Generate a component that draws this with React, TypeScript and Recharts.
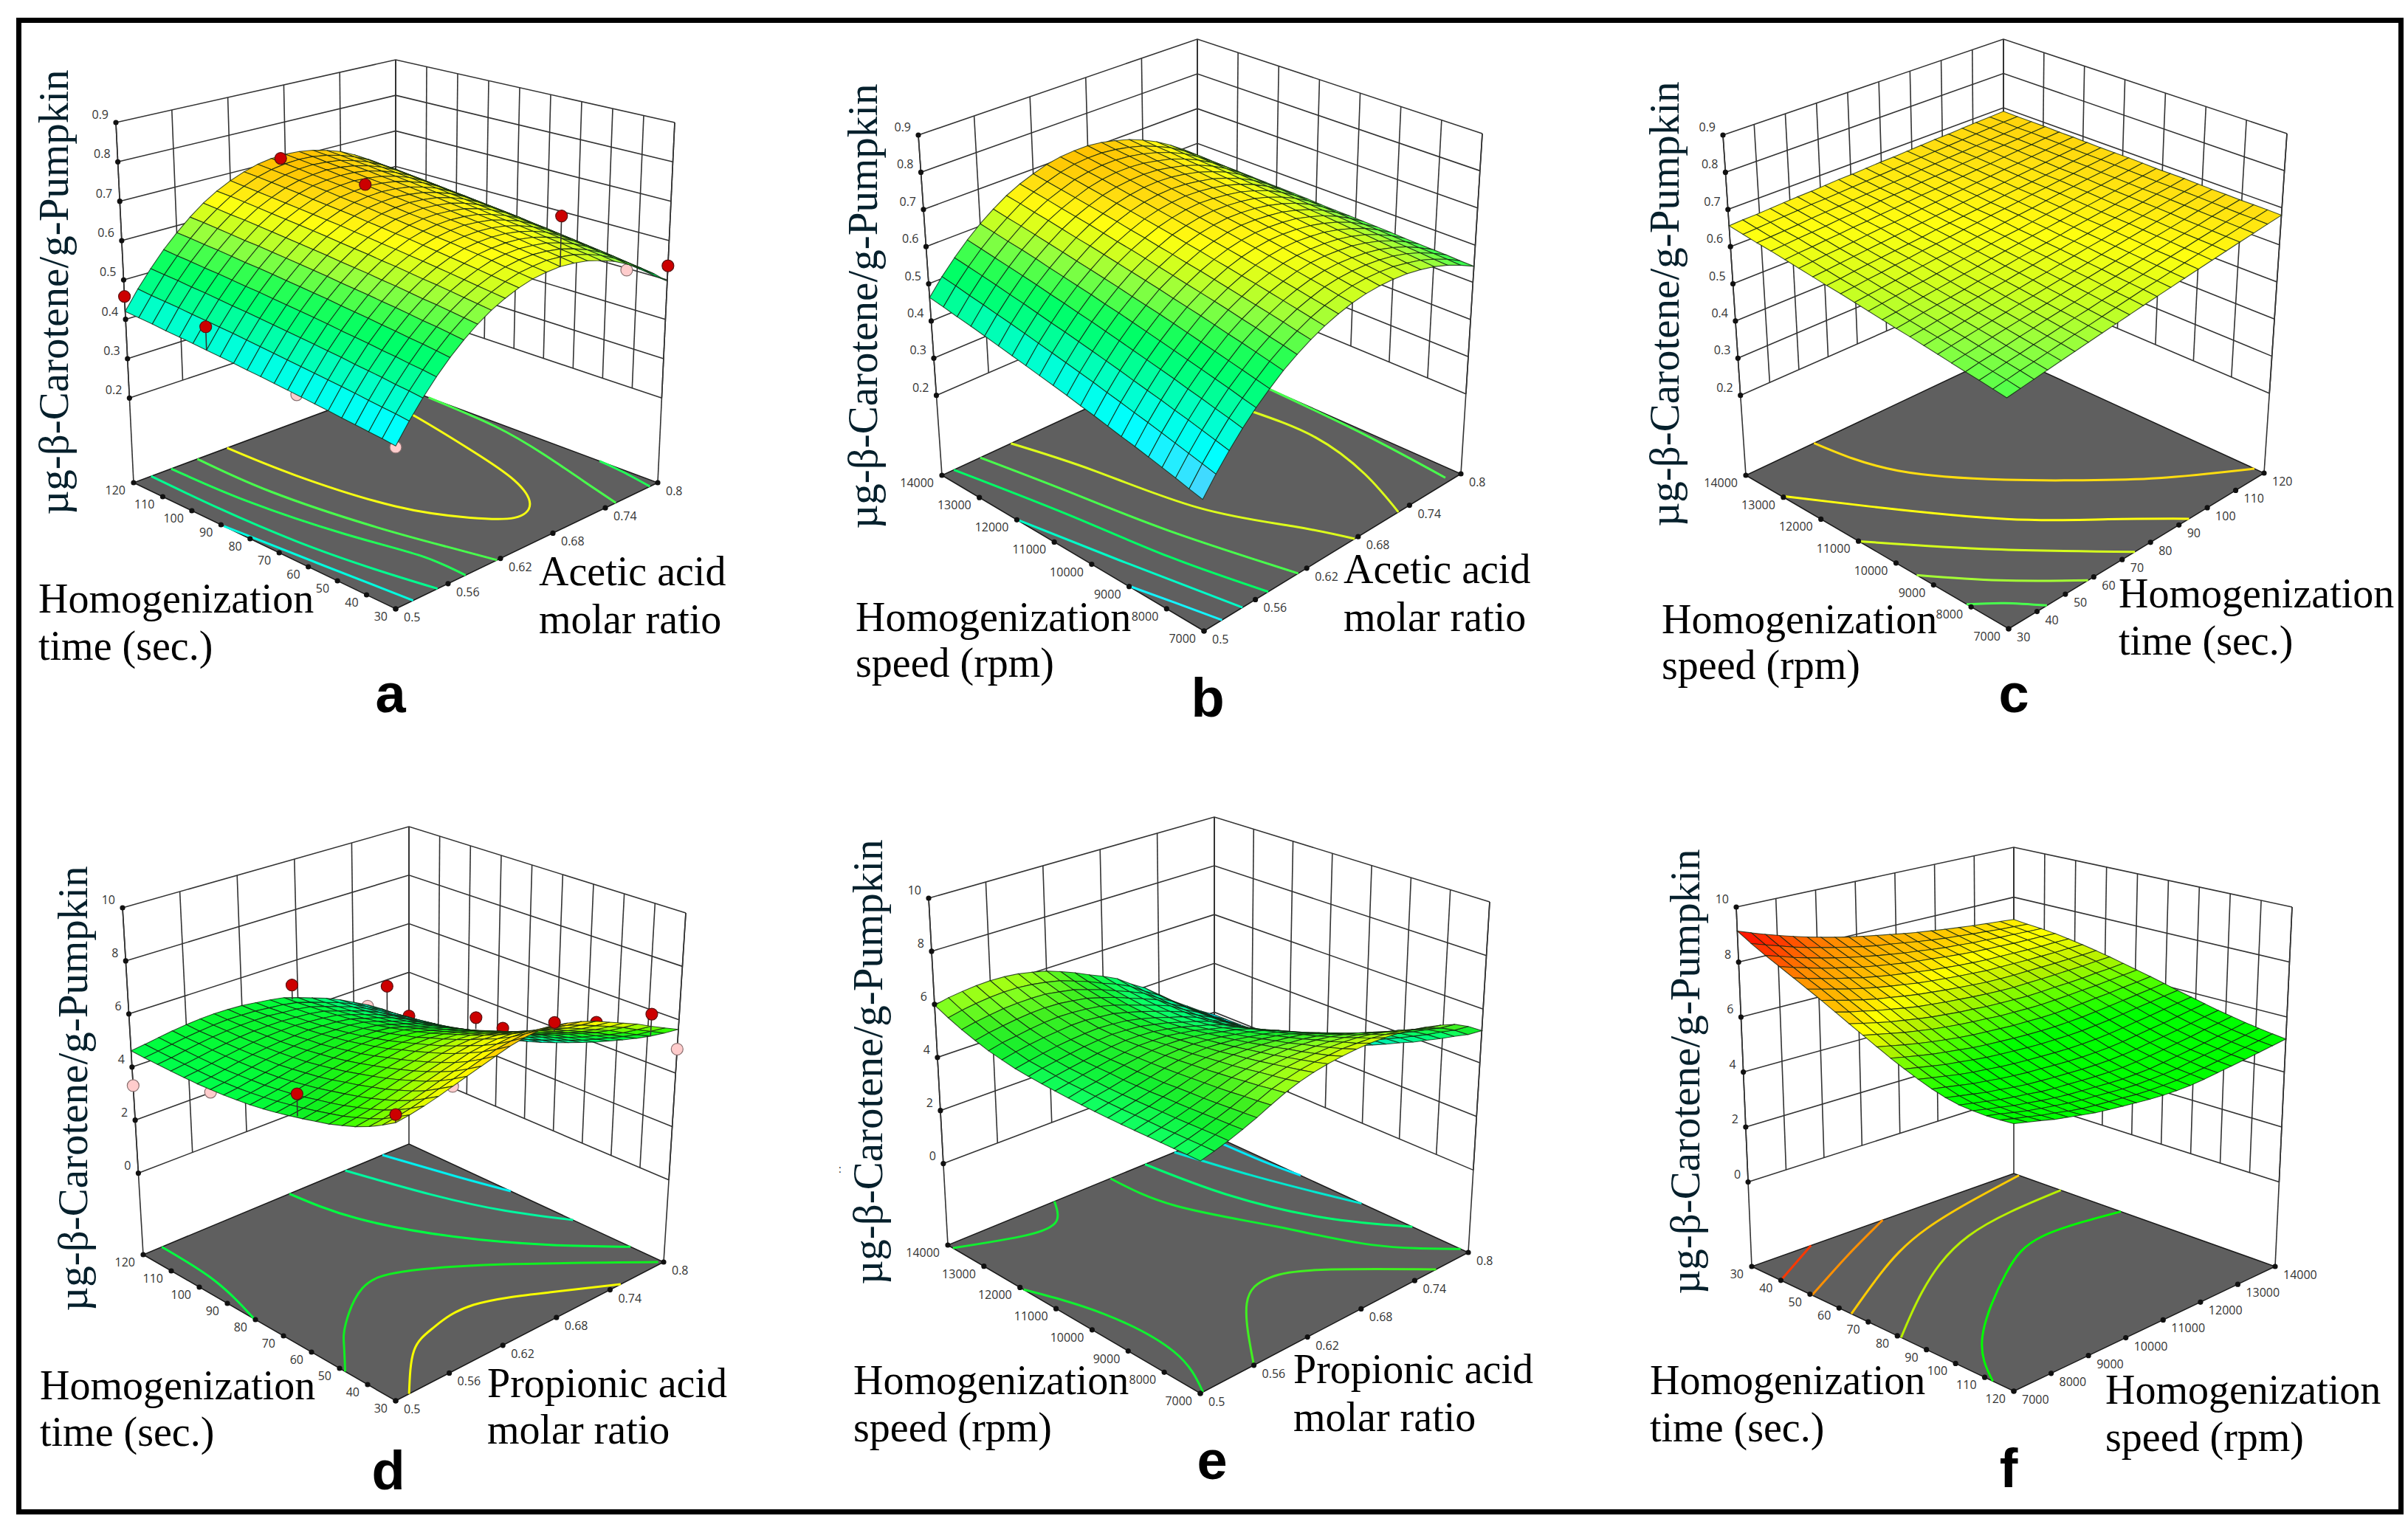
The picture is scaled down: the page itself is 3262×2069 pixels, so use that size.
import { Scatter, ScatterChart, XAxis, YAxis } from "recharts";

const timeTicks = [30, 40, 50, 60, 70, 80, 90, 100, 110, 120];
const speedTicks = [7000, 8000, 9000, 10000, 11000, 12000, 13000, 14000];
const ratioTicks = [0.5, 0.56, 0.62, 0.68, 0.74, 0.8];
const responseTicksLow = [0.2, 0.3, 0.4, 0.5, 0.6, 0.7, 0.8, 0.9];
const responseTicksHigh = [0, 2, 4, 6, 8, 10];

const surfaceA = [
  [364,409,450,487,520,549,574,595,611,624,633,637,638,634,627,615,600,580,556,529,497],
  [368,413,454,491,524,553,578,599,615,628,637,641,643,639,632,620,605,585,561,534,502],
  [371,416,457,494,528,557,582,603,619,632,641,646,647,643,636,624,609,590,566,539,507],
  [374,419,461,498,531,560,586,607,623,636,646,650,651,647,641,629,614,594,571,544,512],
  [377,423,464,501,535,564,589,611,627,640,650,654,655,652,645,633,619,599,575,548,517],
  [381,426,467,505,538,568,593,614,631,644,654,658,659,656,649,638,623,603,580,553,522],
  [384,429,471,508,542,571,597,618,635,648,658,662,663,660,653,642,627,608,584,558,526],
  [387,432,474,511,545,575,600,622,638,652,661,666,668,664,658,646,632,612,589,562,531],
  [390,435,477,515,548,578,604,625,642,656,665,670,671,668,662,650,636,617,593,567,536],
  [393,438,480,518,552,581,607,629,645,659,669,674,675,672,666,655,640,621,598,571,540],
  [396,441,483,521,555,585,610,632,649,663,673,677,679,676,670,659,644,625,602,576,545],
  [398,444,486,524,558,588,614,635,652,666,676,681,683,680,674,663,648,629,606,580,549],
  [401,447,489,527,561,591,617,639,656,670,680,685,687,683,677,666,652,633,610,584,553],
  [404,450,492,530,564,594,620,642,659,673,683,688,690,687,681,670,656,637,614,588,557],
  [406,452,494,532,567,597,623,645,662,676,686,691,694,691,685,674,660,641,618,592,562],
  [409,455,497,535,569,600,626,648,665,679,690,695,697,694,688,678,664,645,622,596,566],
  [411,457,500,538,572,602,629,651,668,683,693,698,700,698,692,681,667,649,626,600,570],
  [413,460,502,540,575,605,632,654,671,686,696,701,704,701,695,685,671,653,630,604,574],
  [416,462,505,543,577,608,634,657,674,689,699,705,707,704,699,688,675,656,634,608,578],
  [418,464,507,545,580,611,637,660,677,692,702,708,710,708,702,692,678,660,637,612,581],
  [420,467,509,548,582,613,640,662,680,694,705,711,713,711,705,695,682,663,641,615,585],
];
const surfaceB = [
  [316,361,402,440,474,504,532,555,575,592,605,615,621,623,622,618,610,599,584,565,543],
  [324,369,410,448,481,511,539,562,581,598,611,620,626,628,626,622,613,602,586,567,544],
  [333,377,418,455,489,518,546,568,588,604,616,626,631,632,630,625,617,605,589,569,546],
  [341,385,426,463,496,525,553,575,594,610,622,631,636,637,634,629,620,607,591,570,547],
  [349,393,433,470,503,532,559,581,600,616,627,636,641,641,638,633,623,610,593,572,548],
  [357,401,441,478,510,539,566,588,606,622,633,641,645,645,642,636,626,613,595,574,549],
  [364,408,448,485,517,546,573,594,612,627,638,646,650,650,646,640,629,615,598,576,551],
  [372,416,455,492,524,553,579,600,618,633,644,651,655,654,650,643,632,618,600,577,552],
  [380,423,463,499,531,560,585,606,624,638,649,656,659,658,654,647,635,621,602,579,553],
  [387,431,470,506,538,566,592,612,629,644,654,661,664,662,657,650,638,623,604,581,554],
  [395,438,477,513,545,572,598,618,635,649,659,665,668,666,661,653,641,626,606,582,555],
  [402,445,484,520,551,579,604,624,640,655,664,670,672,670,665,657,644,628,608,584,556],
  [409,452,491,526,558,585,610,630,646,660,669,675,677,674,668,660,647,631,610,585,558],
  [416,459,497,533,564,591,616,635,651,665,674,679,681,678,672,663,650,633,612,587,559],
  [423,466,504,539,570,597,622,641,657,670,679,684,685,682,675,666,652,635,614,588,560],
  [430,473,511,546,576,603,627,647,662,675,683,688,689,686,679,669,655,638,616,590,561],
  [437,479,517,552,583,609,633,652,667,680,688,692,693,690,682,672,658,640,618,591,562],
  [444,486,524,558,589,615,639,657,672,685,693,697,697,693,685,675,660,642,620,593,563],
  [450,492,530,564,594,621,644,663,677,690,697,701,701,697,689,678,663,645,621,594,564],
  [457,499,536,570,600,626,650,668,682,694,702,705,705,700,692,681,665,647,623,596,565],
  [463,505,542,576,606,632,655,673,687,699,706,709,709,704,695,684,668,649,625,597,566],
];
const surfaceC = [
  [560,566,572,578,584,590,596,602,608,614,620,626,632,638,644,650,656,662,668,674,680],
  [565,571,577,582,588,594,600,605,611,617,623,629,634,640,646,652,658,663,669,675,681],
  [570,575,581,586,592,597,603,609,614,620,625,631,636,642,648,653,659,664,670,675,681],
  [574,580,585,590,596,601,607,612,617,623,628,633,639,644,649,655,660,665,671,676,681],
  [579,584,589,595,600,605,610,615,620,626,631,636,641,646,651,656,661,666,672,677,682],
  [584,589,594,599,604,609,614,618,623,628,633,638,643,648,653,658,663,668,673,678,682],
  [589,594,598,603,608,612,617,622,627,631,636,641,646,650,655,660,664,669,674,679,683],
  [594,598,603,607,612,616,621,625,630,634,639,643,648,652,657,661,666,670,675,679,684],
  [598,602,607,611,615,619,624,628,632,637,641,645,649,654,658,662,666,671,675,679,684],
  [603,607,611,615,619,623,627,631,636,640,644,648,652,656,660,664,668,672,676,680,684],
  [608,612,616,620,623,627,631,635,639,643,647,650,654,658,662,666,670,673,677,681,685],
  [613,617,620,624,628,631,635,638,642,646,649,653,657,660,664,668,671,675,678,682,686],
  [618,621,625,628,632,635,639,642,645,649,652,656,659,662,666,669,673,676,680,683,686],
  [622,625,629,632,635,638,641,644,648,651,654,657,660,664,667,670,673,676,680,683,686],
  [627,630,633,636,639,642,645,648,651,654,657,660,663,666,669,672,675,678,681,684,687],
  [632,635,638,640,643,646,649,651,654,657,660,663,665,668,671,674,676,679,682,685,688],
  [637,640,642,645,647,650,652,655,657,660,663,665,668,670,673,675,678,681,683,686,688],
  [642,644,647,649,651,654,656,658,661,663,665,668,670,672,675,677,680,682,684,687,689],
  [646,648,650,652,655,657,659,661,663,665,667,669,672,674,676,678,680,682,684,686,689],
  [651,653,655,657,659,661,662,664,666,668,670,672,674,676,678,680,682,684,686,688,689],
  [656,658,659,661,663,665,666,668,670,671,673,675,676,678,680,682,683,685,687,688,690],
];
const surfaceD = [
  [655,662,672,685,700,715,730,745,760,770,775,772,760,745,725,700,675,650,620,592,564],
  [625,633,643,656,671,685,700,715,729,738,743,740,728,713,693,669,644,619,589,561,532],
  [598,605,616,629,643,658,672,686,700,708,713,710,698,683,663,639,614,589,559,530,502],
  [576,584,594,607,621,635,649,662,676,683,687,684,671,657,638,613,588,563,533,504,475],
  [558,566,576,589,603,617,629,642,654,662,666,661,649,634,615,590,565,540,510,480,450],
  [541,549,560,572,585,599,611,623,634,641,644,640,627,611,592,568,543,518,486,456,427],
  [528,536,545,558,571,583,595,606,617,621,624,620,606,590,571,546,521,495,465,433,403],
  [515,523,532,545,557,569,580,590,600,604,606,602,587,572,553,528,502,476,445,413,382],
  [503,511,521,533,545,556,566,576,585,588,589,584,570,554,535,510,484,458,427,394,362],
  [492,500,509,521,532,543,553,561,568,572,571,566,552,535,516,492,465,439,407,374,342],
  [482,490,499,511,521,532,541,548,555,557,557,551,536,520,500,476,449,422,390,356,323],
  [474,482,491,502,513,522,530,538,543,544,543,537,523,505,486,461,434,406,375,340,306],
  [468,475,484,494,505,513,522,527,532,532,531,524,508,491,471,447,419,392,359,325,290],
  [463,470,480,489,498,507,514,518,523,522,520,512,496,479,459,434,407,379,345,311,275],
  [460,467,476,486,495,502,508,513,515,513,511,503,487,468,449,424,396,367,334,299,262],
  [457,464,473,483,491,498,503,506,509,506,502,494,477,460,440,415,386,357,323,287,250],
  [457,464,472,481,489,496,501,503,504,500,495,487,470,451,431,407,378,349,315,277,240],
  [457,464,472,481,488,494,498,499,499,495,490,481,463,444,424,399,370,341,306,268,230],
  [458,465,474,482,489,494,497,498,497,491,486,476,459,439,419,393,365,335,300,261,222],
  [459,466,474,482,488,493,496,495,493,487,481,471,453,434,414,389,359,329,293,254,215],
  [461,468,476,484,490,494,496,495,492,485,478,468,450,430,410,385,355,325,290,250,210],
];
const surfaceE = [
  [489,502,517,535,555,578,600,617,630,639,645,649,650,648,643,634,622,607,588,558,520],
  [489,501,516,532,551,572,593,607,619,626,629,632,630,627,619,609,594,578,557,526,487],
  [488,500,514,530,547,567,585,599,609,614,616,617,615,610,601,588,573,554,532,501,462],
  [487,499,512,527,543,561,579,591,599,603,603,602,598,591,580,566,549,529,506,473,435],
  [486,497,510,524,539,556,572,582,589,591,592,589,584,575,562,547,528,506,481,448,410],
  [485,497,509,522,537,552,566,574,580,581,579,574,568,558,544,526,505,481,456,423,384],
  [484,496,507,521,534,548,560,568,572,571,568,562,554,544,527,508,485,460,434,400,362],
  [484,495,506,518,530,544,555,561,563,561,556,549,540,527,508,489,465,438,410,375,338],
  [484,495,505,517,529,541,550,554,556,552,546,536,526,513,493,471,445,417,389,354,315],
  [485,496,505,516,527,538,546,549,549,544,536,525,514,499,477,454,427,397,368,331,293],
  [487,498,507,518,528,536,543,545,543,536,527,514,502,485,461,438,408,377,346,309,272],
  [489,499,509,518,527,534,540,539,537,528,518,503,489,471,446,421,389,356,324,287,249],
  [492,502,511,519,527,533,537,536,532,522,510,494,479,459,432,406,373,338,305,267,230],
  [496,507,515,523,530,535,538,535,530,518,505,488,471,451,422,395,360,324,290,252,215],
  [501,511,520,528,534,538,540,536,530,518,503,485,468,446,416,388,352,315,280,242,205],
  [510,521,530,537,542,547,547,541,535,521,505,487,468,446,414,385,348,309,274,236,200],
  [520,532,539,547,553,556,554,549,541,527,509,489,470,448,414,384,345,306,270,232,196],
  [535,546,554,561,566,568,566,559,550,534,517,495,474,451,415,384,344,303,266,228,193],
  [552,563,571,578,581,582,580,571,561,544,525,502,480,455,418,386,344,303,265,226,191],
  [573,584,592,598,601,600,595,586,574,555,535,510,488,461,423,389,346,302,263,224,190],
  [597,608,615,620,622,620,614,603,590,570,548,522,498,470,430,395,350,305,265,225,190],
];
const surfaceF = [
  [582,570,558,545,535,525,515,508,502,496,490,486,484,484,487,492,497,502,508,514,520],
  [577,565,554,542,533,522,513,507,502,497,491,488,487,487,491,495,501,506,513,519,526],
  [574,564,552,541,532,524,516,509,505,500,495,492,492,493,496,502,508,513,520,526,533],
  [574,563,553,542,534,525,518,512,508,504,500,497,497,498,503,508,514,520,527,533,541],
  [576,566,556,546,538,531,523,518,515,511,508,506,505,508,512,517,523,529,537,543,550],
  [584,574,564,554,547,539,532,528,524,521,518,516,516,518,522,528,533,539,546,553,560],
  [596,587,577,567,560,552,546,541,538,534,531,529,529,530,534,540,546,551,558,565,571],
  [612,602,592,582,574,568,561,556,552,549,546,544,544,545,548,553,559,564,571,577,583],
  [630,620,610,600,593,585,578,573,569,565,562,561,560,561,564,568,573,579,584,590,595],
  [650,639,629,619,611,604,596,591,587,583,580,578,577,578,580,584,588,593,598,603,608],
  [672,661,650,640,631,623,616,610,606,602,598,597,595,595,597,600,604,607,612,616,621],
  [695,684,673,662,653,644,637,631,626,622,617,615,613,612,614,616,619,621,625,629,633],
  [718,706,694,683,674,665,657,651,645,641,636,633,631,629,630,632,633,635,639,641,645],
  [742,729,718,706,697,687,678,672,666,661,656,652,649,647,648,648,649,651,652,655,657],
  [766,753,740,728,717,709,700,692,686,680,675,670,666,664,663,664,664,664,665,666,668],
  [789,776,763,750,739,729,720,712,704,698,693,688,684,680,679,678,677,677,677,678,678],
  [812,797,784,771,760,748,739,730,723,716,709,704,699,695,692,691,689,688,687,688,687],
  [835,820,806,792,780,769,758,749,741,733,727,722,716,711,707,704,702,699,698,697,695],
  [858,843,827,813,800,788,777,767,758,750,742,736,729,723,719,714,712,708,706,703,701],
  [884,868,852,836,822,810,798,787,776,767,760,752,744,737,731,726,721,717,712,709,705],
  [913,895,878,862,847,833,820,808,797,787,778,769,760,752,745,738,732,726,721,716,711],
];

// floor contours: response level plus [left axis value, right axis value] pairs
const contoursA = [
  { level: 0.42, points: [[89,0.5],[60,0.51],[30,0.52]] },
  { level: 0.48, points: [[120,0.52],[97,0.52],[71,0.525],[48,0.536],[30,0.548]] },
  { level: 0.54, points: [[120,0.543],[95,0.547],[66,0.563],[45,0.579],[30,0.58]] },
  { level: 0.56, points: [[120,0.573],[95,0.574],[65,0.589],[44,0.605],[30,0.616]] },
  { level: 0.645, points: [[120,0.607],[97.5,0.611],[68.5,0.628],[51,0.655],[43,0.679],[45.7,0.706],[58,0.729],[77,0.746],[103.5,0.765],[117,0.77]] },
  { level: 0.56, points: [[108.7,0.8],[84,0.794],[63,0.78],[42,0.762],[30,0.752]] },
  { level: 0.54, points: [[50,0.8],[41,0.797],[30,0.791]] },
];
const contoursB = [
  { level: 0.37, points: [[9058,0.5],[8022,0.511],[7000,0.521]] },
  { level: 0.44, points: [[12040,0.5],[9730,0.521],[7000,0.545]] },
  { level: 0.52, points: [[14000,0.514],[11445,0.538],[9170,0.554],[7000,0.575]] },
  { level: 0.56, points: [[14000,0.545],[12040,0.563],[9800,0.581],[7000,0.61]] },
  { level: 0.63, points: [[14000,0.581],[12250,0.602],[9940,0.623],[8190,0.656],[7000,0.676]] },
  { level: 0.63, points: [[11711,0.763],[10122,0.767],[8428,0.751],[7000,0.727]] },
  { level: 0.56, points: [[12110,0.8],[9478,0.796],[7140,0.788]] },
];
const contoursC = [
  { level: 0.56, points: [[8120,30],[7630,37],[7000,43.5]] },
  { level: 0.6, points: [[9450,30],[8225,43],[7000,58]] },
  { level: 0.625, points: [[10990,30],[9030,51.6],[7000,74.5]] },
  { level: 0.65, points: [[13055,30],[11655,43.5],[9590,63.3],[8162,80.4],[7000,93.6]] },
  { level: 0.68, points: [[14000,53.8],[12229,60],[10570,76],[9520,88.5],[8449,102],[7259,120]] },
];
const contoursD = [
  { level: 2.9, points: [[120,0.77],[99,0.787],[84,0.8]] },
  { level: 3.8, points: [[120,0.728],[96.4,0.75],[77.7,0.773],[62,0.8]] },
  { level: 4.7, points: [[120,0.665],[100,0.677],[76.8,0.713],[57,0.758],[41.7,0.8]] },
  { level: 5.2, points: [[48,0.5],[57,0.527],[64,0.551],[73.6,0.6],[72.7,0.643],[58.8,0.707],[31,0.797]] },
  { level: 6.9, points: [[30,0.515],[43.5,0.563],[48,0.599],[49,0.647],[40,0.704],[30,0.752]] },
  { level: 4.7, points: [[120,0.521],[99.8,0.517],[80.4,0.5]] },
];
const contoursE = [
  { level: 2.1, points: [[14000,0.794],[12565,0.796],[11620,0.8]] },
  { level: 3.05, points: [[14000,0.755],[12278,0.772],[10920,0.788],[9940,0.8]] },
  { level: 4.6, points: [[14000,0.722],[12040,0.734],[10059,0.762],[8540,0.8]] },
  { level: 5.2, points: [[14000,0.683],[12369,0.69],[10430,0.725],[8610,0.757],[7210,0.8]] },
  { level: 5.2, points: [[11900,0.5],[10290,0.524],[8400,0.527],[7000,0.503]] },
  { level: 5.6, points: [[7000,0.56],[8715,0.6215],[9100,0.662],[8610,0.701],[7000,0.764]] },
  { level: 5.2, points: [[13860,0.5],[13363,0.562],[13398,0.5975],[14000,0.62]] },
];
const contoursF = [
  { level: 8.6, points: [[40,7000],[30,8582]] },
  { level: 8, points: [[50.7,7000],[39.6,8841],[30,10500]] },
  { level: 7.3, points: [[64.2,7000],[52.8,8659],[40.8,10850],[31.8,14000]] },
  { level: 6.6, points: [[81.3,7000],[66.9,8680],[51,11165],[46.2,14000]] },
  { level: 5.75, points: [[112.8,7000],[94.4,8155],[73.4,10416],[63.8,12145],[66.9,14000]] },
];

// design points: left axis value, right axis value, response
const pointsBelowA = [[63,0.5,0.388],[30,0.5,0.361],[30,0.754,0.566]];
const pointsAboveA = [[120,0.5,0.458],[93,0.5,0.464],[120,0.675,0.705],[93,0.677,0.7],[30,0.68,0.762],[30,0.8,0.536]];
const pointsBelowD = [[120,0.5,3.3],[93,0.5,4.5],[120,0.755,3.2],[30,0.56,7],[30,0.8,4.9]];
const pointsBehindD = [[120,0.8,2.2],[66,0.728,5.2],[52.5,0.785,5.2]];
const pointsAboveD = [[120,0.674,5.07],[111,0.7475,4.53],[75,0.728,5.2],[48,0.725,6.24],[39,0.8,5.85],[63.3,0.5,5.95],[30,0.5,6.83]];

const rampLow: [number, string][] = [
  [0.33, "#55ccff"], [0.36, "#22eeff"], [0.385, "#00ffff"], [0.42, "#00ffe0"], [0.46, "#00ffb0"], [0.49, "#00ff80"], [0.52, "#00ff66"],
  [0.55, "#30ff50"], [0.59, "#90ff40"], [0.62, "#ccff20"], [0.65, "#ffff10"], [0.68, "#ffdd10"], [0.71, "#ffc000"],
];
const rampD: [number, string][] = [
  [2.9, "#00f0f0"], [3.8, "#00f8a0"], [4.7, "#00ff40"], [5.2, "#10f020"], [5.6, "#30ff00"], [6.2, "#a0ff00"], [6.5, "#d8f800"],
  [7, "#ffff00"], [7.4, "#ffd000"], [7.8, "#ffb000"],
];
const rampE: [number, string][] = [
  [2.1, "#00e8f8"], [3.05, "#00e8d0"], [4.6, "#00ff70"], [4.9, "#10ff60"], [5.2, "#10f030"], [5.6, "#40f020"], [5.9, "#80ff20"],
  [6.2, "#b0ff10"], [6.5, "#e0f800"],
];
const rampF: [number, string][] = [
  [5.75, "#00ff00"], [6.3, "#70ff00"], [6.6, "#b8f000"], [7, "#ffff00"], [7.3, "#ffcc00"], [8, "#ff9000"], [8.6, "#ff3800"], [9.13, "#ff0000"],
];

type Pt = [number, number];

const panels = [
  {
    letter: "a", letterAt: [529, 939], surface: surfaceA, unit: 1000, zTicks: responseTicksLow, ramp: rampLow,
    contours: contoursA, below: pointsBelowA, behind: [], above: pointsAboveA,
    left: { ticks: timeTicks, from: 30, to: 120 }, right: { ticks: ratioTicks, from: 0.5, to: 0.8 },
    floor: { F: [536, 825], L: [181, 654], R: [891, 654], B: [536, 522] },
    top: { F: [536, 292], L: [157, 166], R: [914, 166], B: [536, 81] },
    yTitleAt: [72, 396],
    leftTitle: { lines: ["Homogenization", "time (sec.)"], x: 52, y: [811, 875] },
    rightTitle: { lines: ["Acetic acid", "molar ratio"], x: 730, y: [774, 839] },
  },
  {
    letter: "b", letterAt: [1636, 945], surface: surfaceB, unit: 1000, zTicks: responseTicksLow, ramp: rampLow,
    contours: contoursB, below: [], behind: [], above: [],
    left: { ticks: speedTicks, from: 7000, to: 14000 }, right: { ticks: ratioTicks, from: 0.5, to: 0.8 },
    floor: { F: [1631, 855], L: [1276, 644], R: [1979, 642], B: [1622, 484] },
    top: { F: [1626, 362], L: [1244, 183], R: [2008, 181], B: [1622, 53] },
    yTitleAt: [1168, 415],
    leftTitle: { lines: ["Homogenization", "speed (rpm)"], x: 1159, y: [836, 898] },
    rightTitle: { lines: ["Acetic acid", "molar ratio"], x: 1820, y: [771, 836] },
  },
  {
    letter: "c", letterAt: [2728, 939], surface: surfaceC, unit: 1000, zTicks: responseTicksLow, ramp: rampLow,
    contours: contoursC, below: [], behind: [], above: [],
    left: { ticks: speedTicks, from: 7000, to: 14000 }, right: { ticks: timeTicks, from: 30, to: 120 },
    floor: { F: [2721, 852], L: [2365, 644], R: [3067, 641], B: [2714, 479] },
    top: { F: [2717, 354], L: [2334, 183], R: [3098, 181], B: [2714, 53] },
    yTitleAt: [2254, 412],
    leftTitle: { lines: ["Homogenization", "speed (rpm)"], x: 2251, y: [839, 901] },
    rightTitle: { lines: ["Homogenization", "time (sec.)"], x: 2870, y: [804, 868] },
  },
  {
    letter: "d", letterAt: [526, 1992], surface: surfaceD, unit: 100, zTicks: responseTicksHigh, ramp: rampD,
    contours: contoursD, below: pointsBelowD, behind: pointsBehindD, above: pointsAboveD,
    left: { ticks: timeTicks, from: 30, to: 120 }, right: { ticks: ratioTicks, from: 0.5, to: 0.8 },
    floor: { F: [536, 1898], L: [194, 1700], R: [899, 1710], B: [554, 1550] },
    top: { F: [536, 1386], L: [166, 1230], R: [929, 1237], B: [554, 1120] },
    yTitleAt: [98, 1475],
    leftTitle: { lines: ["Homogenization", "time (sec.)"], x: 54, y: [1877, 1940] },
    rightTitle: { lines: ["Propionic acid", "molar ratio"], x: 660, y: [1874, 1937] },
  },
  {
    letter: "e", letterAt: [1642, 1978], surface: surfaceE, unit: 100, zTicks: responseTicksHigh, ramp: rampE,
    contours: contoursE, below: [], behind: [], above: [],
    left: { ticks: speedTicks, from: 7000, to: 14000 }, right: { ticks: ratioTicks, from: 0.5, to: 0.8 },
    floor: { F: [1626, 1888], L: [1284, 1687], R: [1989, 1697], B: [1645, 1539] },
    top: { F: [1626, 1371], L: [1258, 1217], R: [2018, 1222], B: [1645, 1107] },
    yTitleAt: [1175, 1439],
    leftTitle: { lines: ["Homogenization", "speed (rpm)"], x: 1156, y: [1870, 1934] },
    rightTitle: { lines: ["Propionic acid", "molar ratio"], x: 1752, y: [1855, 1920] },
  },
  {
    letter: "f", letterAt: [2721, 1989], surface: surfaceF, unit: 100, zTicks: responseTicksHigh, ramp: rampF,
    contours: contoursF, below: [], behind: [], above: [],
    left: { ticks: timeTicks, from: 120, to: 30 }, right: { ticks: speedTicks, from: 7000, to: 14000 },
    floor: { F: [2728, 1885], L: [2373, 1716], R: [3082, 1716], B: [2728, 1590] },
    top: { F: [2728, 1352], L: [2352, 1229], R: [3105, 1229], B: [2728, 1148] },
    yTitleAt: [2282, 1452],
    leftTitle: { lines: ["Homogenization", "time (sec.)"], x: 2235, y: [1870, 1934] },
    rightTitle: { lines: ["Homogenization", "speed (rpm)"], x: 2852, y: [1883, 1947] },
  },
];

type Panel = (typeof panels)[number];

function bilerp(q: Record<string, number[]>, u: number, v: number): Pt {
  const at = (k: number) => q.F[k] + u * (q.L[k] - q.F[k]) + v * (q.R[k] - q.F[k]) + u * v * (q.F[k] + q.B[k] - q.L[k] - q.R[k]);
  return [at(0), at(1)];
}

// axis floor value sits below the first tick, same share of the wall on every panel
function floorLevel(p: Panel) {
  const hi = p.zTicks[p.zTicks.length - 1];
  return hi - (hi - p.zTicks[0]) / 0.765;
}

function project(p: Panel, u: number, v: number, z: number): Pt {
  const max = p.zTicks[p.zTicks.length - 1];
  const floorZ = floorLevel(p);
  const w = (z - floorZ) / (max - floorZ);
  const a = bilerp(p.floor, u, v);
  const b = bilerp(p.top, u, v);
  return [a[0] + w * (b[0] - a[0]), a[1] + w * (b[1] - a[1])];
}

const frac = (axis: { from: number; to: number }, value: number) => (value - axis.from) / (axis.to - axis.from);

function polyItem(pts: Pt[], color: string | null, closed: boolean) {
  return { x: pts[0][0], y: pts[0][1], offsets: pts.map((q) => [q[0] - pts[0][0], q[1] - pts[0][1]]), color, closed };
}

function rampColor(ramp: [number, string][], z: number) {
  if (z <= ramp[0][0]) return ramp[0][1];
  for (let i = 1; i < ramp.length; i++) {
    if (z <= ramp[i][0]) {
      const t = (z - ramp[i - 1][0]) / (ramp[i][0] - ramp[i - 1][0]);
      const a = ramp[i - 1][1];
      const b = ramp[i][1];
      const ch = (s: number) => Math.round(parseInt(a.slice(s, s + 2), 16) * (1 - t) + parseInt(b.slice(s, s + 2), 16) * t);
      return `rgb(${ch(1)},${ch(3)},${ch(5)})`;
    }
  }
  return ramp[ramp.length - 1][1];
}

function wallItems(p: Panel) {
  const lo = p.zTicks[0];
  const hi = p.zTicks[p.zTicks.length - 1];
  const floorZ = floorLevel(p);
  const items: any[] = [];
  p.zTicks.forEach((z) => {
    items.push(polyItem([project(p, 1, 0, z), project(p, 1, 1, z), project(p, 0, 1, z)], null, false));
  });
  p.right.ticks.forEach((t) => {
    const v = frac(p.right, t);
    items.push(polyItem([project(p, 1, v, lo), project(p, 1, v, hi)], null, false));
  });
  p.left.ticks.forEach((t) => {
    const u = frac(p.left, t);
    items.push(polyItem([project(p, u, 1, lo), project(p, u, 1, hi)], null, false));
  });
  items.push(polyItem([project(p, 1, 0, floorZ), project(p, 1, 0, hi)], null, false));
  items.push(polyItem([project(p, 1, 1, floorZ), project(p, 1, 1, hi)], null, false));
  items.push(polyItem([project(p, 0, 1, floorZ), project(p, 0, 1, hi)], null, false));
  return items;
}

function floorItem(p: Panel) {
  const q = p.floor as Record<string, number[]>;
  return [polyItem([q.F as Pt, q.R as Pt, q.B as Pt, q.L as Pt], "#5f5f5f", true)];
}

function meshItems(p: Panel) {
  const grid = p.surface;
  const n = grid.length - 1;
  const items: any[] = [];
  const corner = (i: number, j: number) => project(p, i / n, j / n, grid[i][j] / p.unit);
  for (let i = n - 1; i >= 0; i--) {
    for (let j = n - 1; j >= 0; j--) {
      const mean = (grid[i][j] + grid[i + 1][j] + grid[i + 1][j + 1] + grid[i][j + 1]) / 4 / p.unit;
      items.push(polyItem([corner(i, j), corner(i + 1, j), corner(i + 1, j + 1), corner(i, j + 1)], rampColor(p.ramp, mean), true));
    }
  }
  return items;
}

function designItems(p: Panel, rows: number[][]) {
  return rows.map((r) => {
    const q = project(p, frac(p.left, r[0]), frac(p.right, r[1]), r[2]);
    return { x: q[0], y: q[1] };
  });
}

function stemItems(p: Panel, rows: number[][]) {
  const n = p.surface.length - 1;
  return rows.map((r) => {
    const u = frac(p.left, r[0]);
    const v = frac(p.right, r[1]);
    const onMesh = p.surface[Math.round(u * n)][Math.round(v * n)] / p.unit;
    return polyItem([project(p, u, v, r[2]), project(p, u, v, onMesh)], null, false);
  });
}

function tickItems(p: Panel) {
  const items: any[] = [];
  const floorZ = floorLevel(p);
  p.zTicks.forEach((z) => {
    const q = project(p, 1, 0, z);
    items.push({ x: q[0], y: q[1], label: String(z), side: "z" });
  });
  p.left.ticks.forEach((t) => {
    const q = project(p, frac(p.left, t), 0, floorZ);
    items.push({ x: q[0], y: q[1], label: String(t), side: "left" });
  });
  p.right.ticks.forEach((t) => {
    const q = project(p, 0, frac(p.right, t), floorZ);
    items.push({ x: q[0], y: q[1], label: String(t), side: "right" });
  });
  return items;
}

const drawPoly = ({ cx, cy, payload }: any) => {
  const pts = payload.offsets.map((o: number[]) => `${cx + o[0]},${cy + o[1]}`).join(" ");
  if (payload.closed) {
    return <polygon points={pts} fill={payload.color} stroke="#10240f" strokeWidth={1.1} strokeOpacity={0.8} />;
  }
  return <polyline points={pts} fill="none" stroke="#333" strokeWidth={1.6} />;
};

const drawFloor = ({ cx, cy, payload }: any) => {
  const pts = payload.offsets.map((o: number[]) => `${cx + o[0]},${cy + o[1]}`).join(" ");
  return <polygon points={pts} fill={payload.color} stroke="#1a1a1a" strokeWidth={1.5} />;
};

const drawRed = ({ cx, cy }: any) => <circle cx={cx} cy={cy} r={8} fill="#cc0000" stroke="#5a1010" strokeWidth={1.2} />;
const drawPink = ({ cx, cy }: any) => <circle cx={cx} cy={cy} r={8} fill="#ffcccc" stroke="#8a7070" strokeWidth={1.2} />;

const drawTick = ({ cx, cy, payload }: any) => {
  const place: Record<string, { dx: number; dy: number; anchor: "end" | "start" }> = {
    z: { dx: -10, dy: -5, anchor: "end" },
    left: { dx: -11, dy: 16, anchor: "end" },
    right: { dx: 11, dy: 17, anchor: "start" },
  };
  const s = place[payload.side];
  return (
    <g>
      <circle cx={cx} cy={cy} r={3.6} fill="#111" />
      <text x={cx + s.dx} y={cy + s.dy} textAnchor={s.anchor} fontFamily="'Open Sans'" fontSize={16} fill="#333">
        {payload.label}
      </text>
    </g>
  );
};

const noMark = () => <g />;

function panelSeries(p: Panel) {
  const floorZ = floorLevel(p);
  return [
    <Scatter key={p.letter + "walls"} data={wallItems(p)} shape={drawPoly} isAnimationActive={false} />,
    <Scatter key={p.letter + "floor"} data={floorItem(p)} shape={drawFloor} isAnimationActive={false} />,
    ...p.contours.map((c, k) => (
      <Scatter
        key={p.letter + "contour" + k}
        data={c.points.map((r) => {
          const q = project(p, frac(p.left, r[0]), frac(p.right, r[1]), floorZ);
          return { x: q[0], y: q[1] };
        })}
        line={{ stroke: rampColor(p.ramp, c.level), strokeWidth: 3 }}
        lineJointType="natural"
        shape={noMark}
        isAnimationActive={false}
      />
    )),
    <Scatter key={p.letter + "below"} data={designItems(p, p.below)} shape={drawPink} isAnimationActive={false} />,
    <Scatter key={p.letter + "behind"} data={designItems(p, p.behind)} shape={drawRed} isAnimationActive={false} />,
    <Scatter key={p.letter + "mesh"} data={meshItems(p)} shape={drawPoly} isAnimationActive={false} />,
    <Scatter key={p.letter + "stems"} data={stemItems(p, p.above)} shape={drawPoly} isAnimationActive={false} />,
    <Scatter key={p.letter + "above"} data={designItems(p, p.above)} shape={drawRed} isAnimationActive={false} />,
    <Scatter key={p.letter + "ticks"} data={tickItems(p)} shape={drawTick} isAnimationActive={false} />,
  ];
}

const serif = "'Liberation Serif'";

function AxisTitle({ lines, x, y }: { lines: string[]; x: number; y: number[] }) {
  return (
    <>
      {lines.map((line, i) => (
        <div key={line} style={{ position: "absolute", left: x, top: y[i] - 32, lineHeight: "64px", fontFamily: serif, fontSize: 56, color: "#000", whiteSpace: "nowrap" }}>
          {line}
        </div>
      ))}
    </>
  );
}

export default function App() {
  return (
    <div style={{ position: "absolute", left: 0, top: 0, width: 3262, height: 2069, background: "#fff", overflow: "hidden" }}>
      <div style={{ position: "absolute", left: 22, top: 24, width: 3234, height: 2028, border: "7.5px solid #000", boxSizing: "border-box" }} />
      <ScatterChart width={3262} height={2069} margin={{ top: 0, right: 0, bottom: 0, left: 0 }} style={{ position: "absolute", left: 0, top: 0 }}>
        <XAxis type="number" dataKey="x" domain={[0, 3262]} hide allowDataOverflow />
        <YAxis type="number" dataKey="y" domain={[0, 2069]} reversed hide allowDataOverflow />
        {panels.flatMap(panelSeries)}
      </ScatterChart>
      {panels.map((p) => (
        <div key={p.letter}>
          <div
            style={{
              position: "absolute",
              left: p.yTitleAt[0],
              top: p.yTitleAt[1],
              transform: "translate(-50%, -50%) rotate(-90deg)",
              fontFamily: serif,
              fontSize: 57,
              color: "#06202c",
              whiteSpace: "nowrap",
            }}
          >
            µg-β-Carotene/g-Pumpkin
          </div>
          <AxisTitle {...p.leftTitle} />
          <AxisTitle {...p.rightTitle} />
          <div
            style={{
              position: "absolute",
              left: p.letterAt[0],
              top: p.letterAt[1],
              transform: "translate(-50%, -50%)",
              fontFamily: "'Liberation Sans'",
              fontWeight: 700,
              fontSize: 74,
              color: "#000",
            }}
          >
            {p.letter}
          </div>
        </div>
      ))}
      <div style={{ position: "absolute", left: 1136, top: 1574, fontFamily: "'Open Sans'", fontSize: 14, color: "#333" }}>:</div>
    </div>
  );
}
